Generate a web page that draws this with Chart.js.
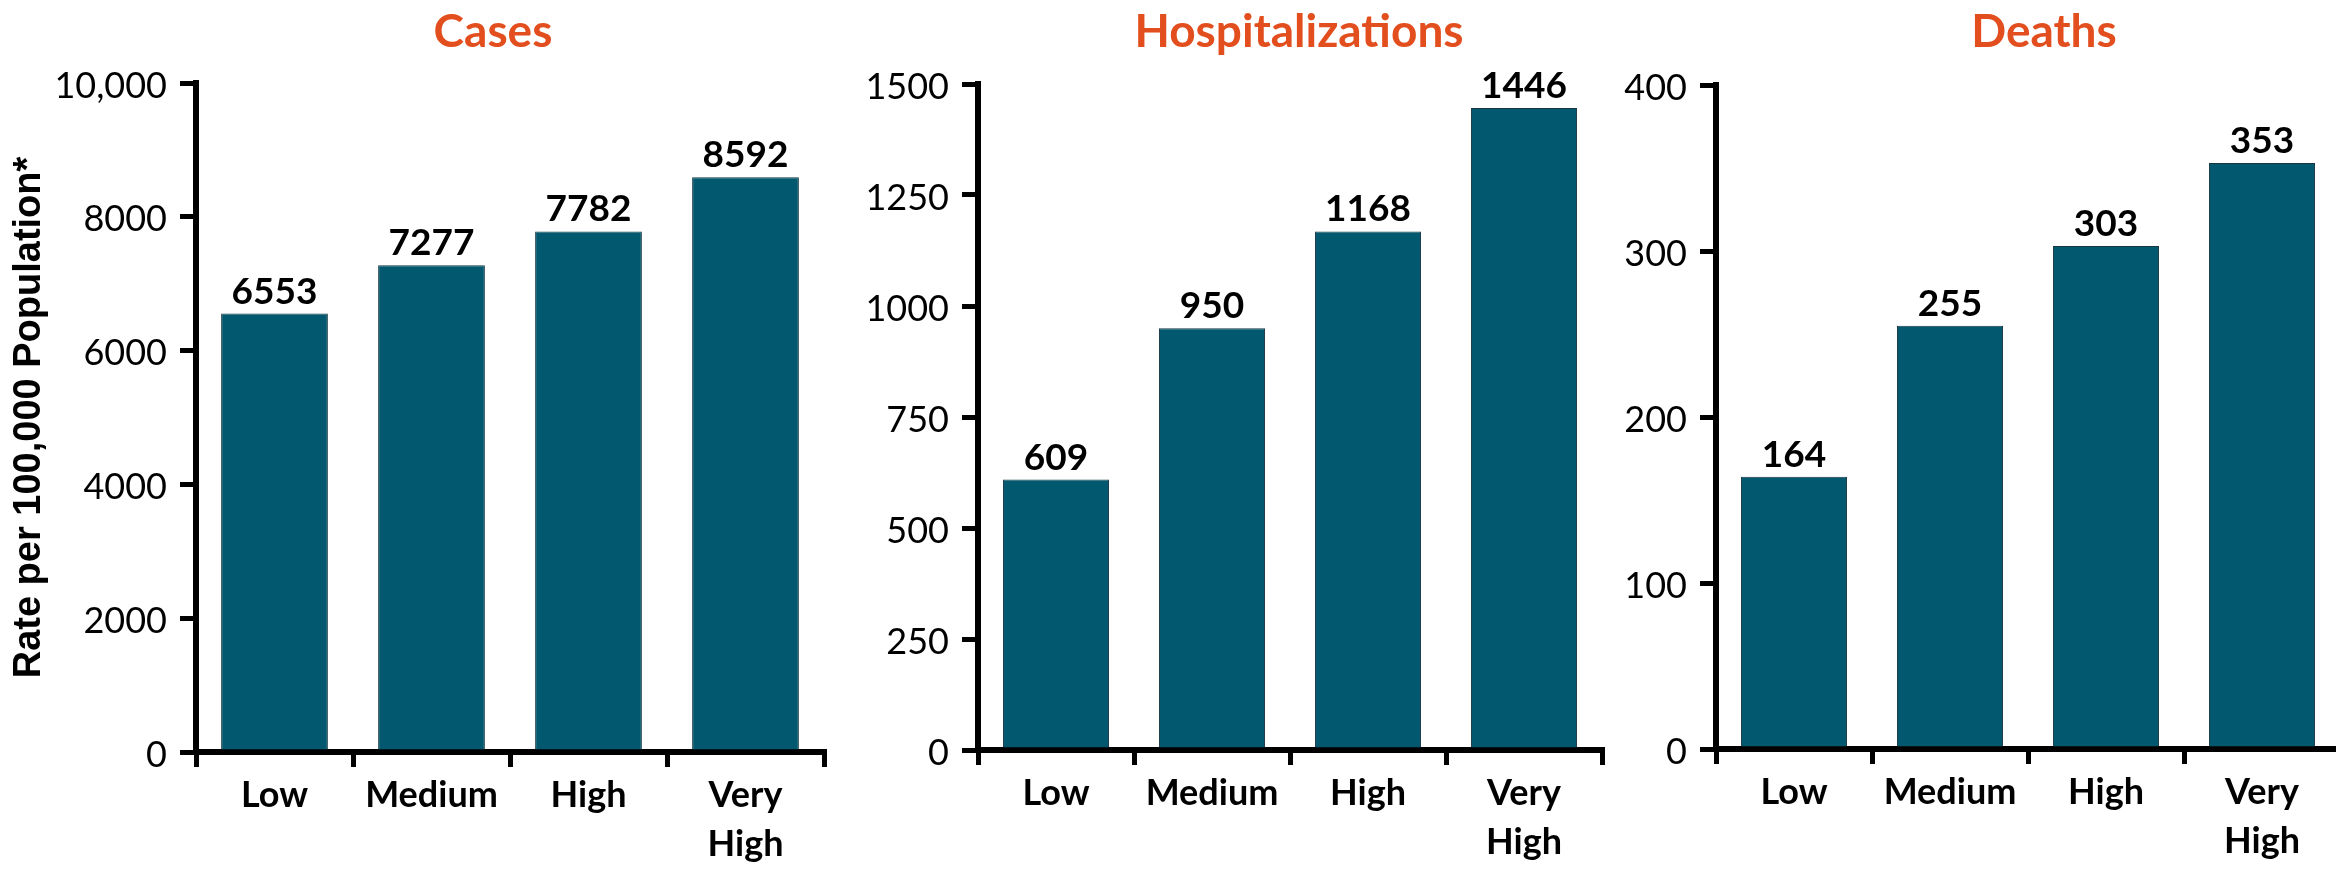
<!DOCTYPE html>
<html>
<head>
<meta charset="utf-8">
<title>Rates by level</title>
<script src="https://cdn.jsdelivr.net/npm/chart.js@4.4.1/dist/chart.umd.min.js"></script>
<style>
  html, body { margin: 0; padding: 0; background: #fff; overflow: hidden; }
  body { width: 2336px; height: 869px; position: relative; }
  canvas { position: absolute; top: 0; }
</style>
</head>
<body>
<canvas id="cases" width="840" height="869" style="left:0px"></canvas>
<canvas id="hosp" width="780" height="869" style="left:840px"></canvas>
<canvas id="deaths" width="730" height="869" style="left:1620px"></canvas>
<script>
// Level categories shared by all three panels
const categories = ['Low', 'Medium', 'High', ['Very', 'High']];

// Rates per 100,000 population
const casesRates = [6553, 7277, 7782, 8592];
const hospitalizationRates = [609, 950, 1168, 1446];
const deathRates = [164, 255, 303, 353];

// Y-axis tick labels (bottom to top)
const casesTickLabels = ['0', '2000', '4000', '6000', '8000', '10,000'];
const hospTickLabels = ['0', '250', '500', '750', '1000', '1250', '1500'];
const deathTickLabels = ['0', '100', '200', '300', '400'];

const panelTitles = ['Cases', 'Hospitalizations', 'Deaths'];
const yAxisTitle = 'Rate per 100,000 Population*';

const BAR_COLOR = '#02596F';
const TITLE_COLOR = '#E34E1E';
const FONT = 'Lato, "Open Sans", "DejaVu Sans", sans-serif';

// Writes each bar's value above it
const valueLabels = {
  id: 'valueLabels',
  afterDatasetsDraw(chart) {
    const ctx = chart.ctx;
    const meta = chart.getDatasetMeta(0);
    const values = chart.data.datasets[0].data;
    ctx.save();
    ctx.font = 'bold 37px ' + FONT;
    ctx.fillStyle = '#000';
    ctx.textAlign = 'center';
    ctx.textBaseline = 'alphabetic';
    meta.data.forEach((bar, i) => {
      ctx.fillText(String(values[i]), bar.x, bar.y - 10);
    });
    ctx.restore();
  }
};

// Panel heading above each chart
const panelTitle = {
  id: 'panelTitle',
  afterDraw(chart, args, opts) {
    const ctx = chart.ctx;
    ctx.save();
    ctx.font = 'bold 46px ' + FONT;
    ctx.fillStyle = TITLE_COLOR;
    ctx.textAlign = 'center';
    ctx.textBaseline = 'alphabetic';
    ctx.fillText(opts.text, opts.x, opts.y);
    ctx.restore();
  }
};

function makePanel(id, values, max, step, tickLabels, geom) {
  const yScale = {
    min: 0,
    max: max,
    afterFit(scale) { scale.width = geom.axisWidth; },
    ticks: {
      stepSize: step,
      color: '#000',
      padding: 13,
      labelOffset: 3,
      font: { family: FONT, size: 36 },
      callback: (value, index) => tickLabels[index]
    },
    grid: {
      drawOnChartArea: false,
      drawTicks: true,
      tickLength: 16,
      tickWidth: 5,
      tickColor: '#000',
      lineWidth: 5,
      color: '#000'
    },
    border: { display: true, width: 6, color: '#000' },
    title: geom.showYTitle ? {
      display: true,
      text: yAxisTitle,
      color: '#000',
      font: { family: '"Liberation Sans", Arial, sans-serif', size: 38, weight: 'bold' },
      padding: { top: 7, bottom: 0 }
    } : { display: false }
  };

  const xScale = {
    afterFit(scale) { scale.height = 869 - geom.bottom; },
    ticks: {
      color: '#000',
      padding: 4,
      maxRotation: 0,
      autoSkip: false,
      font: { family: FONT, size: 36, weight: 'bold', lineHeight: 1.36 }
    },
    grid: {
      offset: true,
      drawOnChartArea: false,
      drawTicks: true,
      tickLength: 15,
      tickWidth: 5,
      tickColor: '#000',
      lineWidth: 5,
      color: '#000'
    },
    border: { display: true, width: 6, color: '#000' }
  };

  return new Chart(document.getElementById(id), {
    type: 'bar',
    data: {
      labels: categories,
      datasets: [{
        data: values,
        backgroundColor: BAR_COLOR,
        borderColor: '#163843',
        borderWidth: 1,
        barPercentage: 0.68,
        categoryPercentage: 1
      }]
    },
    options: {
      responsive: false,
      devicePixelRatio: 1,
      animation: false,
      layout: { padding: { left: 0, right: geom.padRight, top: geom.top, bottom: 0 } },
      scales: { x: xScale, y: yScale },
      plugins: {
        legend: { display: false },
        tooltip: { enabled: false },
        panelTitle: { text: geom.title, x: geom.titleX, y: 47 }
      }
    },
    plugins: [valueLabels, panelTitle]
  });
}

function drawAll() {
  makePanel('cases', casesRates, 10000, 2000, casesTickLabels,
    { axisWidth: 196, padRight: 16, top: 83, bottom: 752, showYTitle: true, title: panelTitles[0], titleX: 493 });
  makePanel('hosp', hospitalizationRates, 1500, 250, hospTickLabels,
    { axisWidth: 138, padRight: 18, top: 84, bottom: 750, showYTitle: false, title: panelTitles[1], titleX: 459 });
  makePanel('deaths', deathRates, 400, 100, deathTickLabels,
    { axisWidth: 96, padRight: 10, top: 85, bottom: 749, showYTitle: false, title: panelTitles[2], titleX: 424 });
}

Promise.all([
  document.fonts.load('36px Lato'),
  document.fonts.load('bold 36px Lato'),
  document.fonts.load('bold 38px "Liberation Sans"')
]).then(drawAll, drawAll);
</script>
</body>
</html>
